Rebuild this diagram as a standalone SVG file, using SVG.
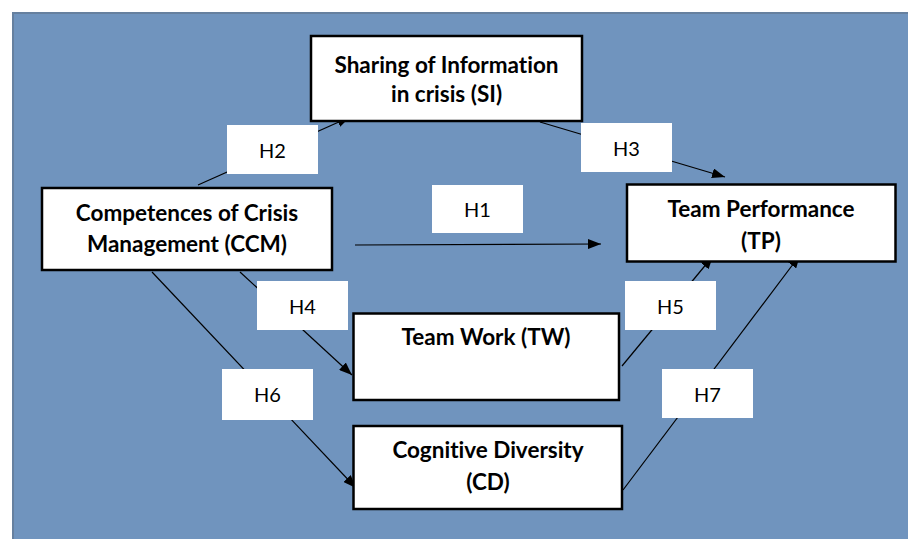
<svg xmlns="http://www.w3.org/2000/svg" width="908" height="539" viewBox="0 0 908 539">
<defs>
<marker id="arr" markerWidth="13" markerHeight="10" refX="13" refY="5" orient="auto" markerUnits="userSpaceOnUse">
<path d="M0,0 L13,5 L0,10 Z" fill="#000"/>
</marker>
<style>
.node rect{fill:#fff;stroke:#000;stroke-width:2.5}
.node text{font-family:Lato,"Open Sans","Liberation Sans",sans-serif;font-weight:bold;font-size:22.5px;fill:#000;text-anchor:middle;font-variant-ligatures:none}
.lbl rect{fill:#fff;stroke:none}
.lbl text{font-family:Lato,"Open Sans","Liberation Sans",sans-serif;font-size:20px;fill:#000;text-anchor:middle}
.conn line{stroke:#000;stroke-width:1.2;fill:none;marker-end:url(#arr)}
</style>
</defs>
<rect x="0" y="0" width="908" height="539" fill="#fff"/>
<rect x="13" y="13" width="900" height="530" fill="#7094be" stroke="#66809f" stroke-width="2"/>
<g id="connectors" class="conn">
<line x1="198" y1="185" x2="350" y2="117"/>
<line x1="540" y1="122" x2="725" y2="177"/>
<line x1="355" y1="245" x2="601" y2="244"/>
<line x1="240" y1="272" x2="352" y2="375"/>
<line x1="152" y1="272" x2="356" y2="488"/>
<line x1="622" y1="366" x2="713" y2="256"/>
<line x1="623" y1="490" x2="800" y2="255"/>
</g>
<g id="node-si" class="node">
<rect x="311" y="36" width="271" height="85"/>
<text x="446.5" y="73">Sharing of Information</text>
<text x="446.5" y="102">in crisis (SI)</text>
</g>
<g id="node-ccm" class="node">
<rect x="42" y="188" width="290" height="82"/>
<text x="187" y="221">Competences of Crisis</text>
<text x="187" y="252">Management (CCM)</text>
</g>
<g id="node-tp" class="node">
<rect x="627" y="184.5" width="268.5" height="77"/>
<text x="761" y="217">Team Performance</text>
<text x="761" y="249">(TP)</text>
</g>
<g id="node-tw" class="node">
<rect x="353.5" y="313.5" width="265.5" height="86.5"/>
<text x="486" y="345">Team Work (TW)</text>
</g>
<g id="node-cd" class="node">
<rect x="353.5" y="426" width="268.5" height="83"/>
<text x="488" y="458">Cognitive Diversity</text>
<text x="488" y="490">(CD)</text>
</g>
<g id="label-h1" class="lbl"><rect x="432" y="185" width="91" height="48"/><text x="477.5" y="217">H1</text></g>
<g id="label-h2" class="lbl"><rect x="227" y="125" width="91" height="49"/><text x="272.5" y="158">H2</text></g>
<g id="label-h3" class="lbl"><rect x="581" y="123" width="91" height="49"/><text x="626.5" y="156">H3</text></g>
<g id="label-h4" class="lbl"><rect x="257" y="281" width="91" height="49"/><text x="302.5" y="314">H4</text></g>
<g id="label-h5" class="lbl"><rect x="625" y="281" width="91" height="49"/><text x="670.5" y="314">H5</text></g>
<g id="label-h6" class="lbl"><rect x="222" y="369" width="91" height="51"/><text x="267.5" y="402">H6</text></g>
<g id="label-h7" class="lbl"><rect x="662" y="369" width="91" height="49"/><text x="707.5" y="402">H7</text></g>
</svg>
